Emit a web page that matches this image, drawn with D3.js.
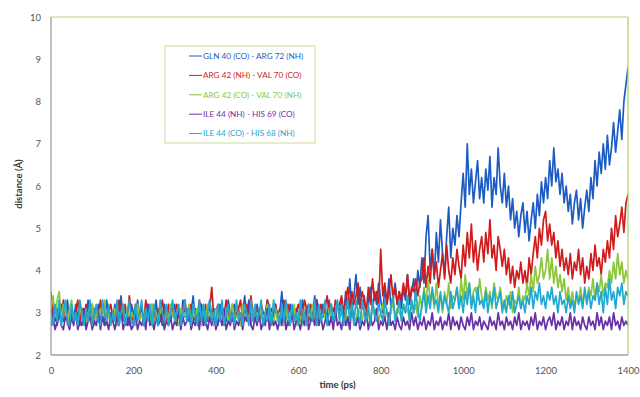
<!DOCTYPE html>
<html>
<head>
<meta charset="utf-8">
<script src="https://cdn.jsdelivr.net/npm/d3@7"></script>
<style>
  body { margin: 0; background: #fff; }
  .tick-label { font-family: Lato, "Open Sans", sans-serif; font-size: 9.5px; fill: #555; }
  .axis-title { font-family: Lato, "Open Sans", sans-serif; font-size: 9.5px; font-weight: bold; fill: #333; }
  .legend-text { font-family: Lato, "Open Sans", sans-serif; font-size: 8.2px; }
</style>
</head>
<body>
<div id="chart"></div>
<script>
const timeStep = 5;

const glnArg = [
  3.5,2.8,3.1,2.7,3.0,3.2,2.8,2.9,3.3,2.7,
  3.0,2.8,3.2,2.9,2.7,3.1,3.0,2.8,3.3,2.9,
  2.7,3.1,2.9,3.2,2.8,3.0,2.7,3.3,2.9,3.0,
  2.8,3.2,2.7,3.0,3.4,2.8,3.1,2.9,2.7,3.2,
  3.0,2.8,3.3,2.9,3.1,2.7,3.0,3.2,2.8,3.1,
  2.9,3.3,2.8,3.0,2.7,3.2,2.9,3.1,2.8,3.0,
  3.2,2.8,3.0,2.7,3.3,2.9,3.1,2.8,3.0,3.4,
  2.8,3.1,2.9,3.2,2.7,3.0,2.8,3.3,2.9,3.1,
  3.0,2.7,3.2,2.9,3.1,2.8,3.3,3.0,2.8,3.2,
  2.9,3.1,2.7,3.0,3.4,2.8,3.2,2.9,3.0,2.8,
  3.2,2.9,3.1,2.7,3.0,3.3,2.8,3.1,2.9,3.2,
  2.8,3.0,3.5,2.9,3.1,2.7,3.2,3.0,2.8,3.1,
  3.0,2.8,3.3,2.9,3.1,3.2,2.8,3.0,3.4,2.9,
  3.1,2.8,3.2,3.0,2.9,3.3,2.8,3.1,3.0,3.2,
  3.0,3.3,2.9,3.5,3.1,3.8,3.0,3.4,3.9,3.2,
  3.6,3.1,3.4,2.9,3.3,3.6,3.0,3.5,3.2,3.7,
  3.3,3.0,3.6,3.2,3.8,3.1,3.4,3.7,3.2,3.5,
  3.1,3.6,3.3,3.9,3.2,3.5,3.8,3.3,4.0,3.6,
  4.3,3.7,4.8,5.3,4.0,4.5,3.8,4.9,4.2,5.2,
  4.4,3.9,4.8,5.5,4.3,5.0,4.6,5.3,4.8,5.6,
  6.3,5.5,7.0,5.8,6.4,5.6,6.1,6.6,5.7,6.2,
  5.6,6.4,5.9,6.7,5.5,6.2,5.8,6.9,6.0,5.6,
  6.3,5.5,6.0,5.2,5.7,5.0,5.4,4.8,5.3,5.6,
  4.9,5.4,4.7,5.2,5.6,5.0,5.8,5.3,6.1,5.6,
  6.2,5.7,6.6,6.0,6.9,6.1,6.4,5.8,6.3,5.6,
  6.0,5.4,5.8,5.1,5.6,5.9,5.2,5.7,5.0,5.5,
  5.9,5.4,6.2,5.7,6.6,6.0,6.8,6.3,7.0,6.4,
  7.2,6.5,6.9,7.5,6.8,7.3,7.8,7.1,8.0,8.4,
  8.8
];

const argValNhCo = [
  2.9,3.2,2.8,3.1,3.0,2.8,3.3,2.9,3.1,2.8,
  3.1,2.9,3.0,3.3,2.8,3.1,2.9,3.2,2.8,3.0,
  3.2,2.8,3.0,2.9,3.3,2.8,3.1,2.9,3.0,3.2,
  2.9,3.1,2.8,3.3,3.0,2.9,3.2,2.8,3.4,3.0,
  2.8,3.2,3.0,2.9,3.1,2.8,3.3,3.0,2.9,3.2,
  3.0,2.8,3.1,2.9,3.3,3.0,2.8,3.2,2.9,3.1,
  2.9,3.2,3.0,2.8,3.1,3.3,2.9,3.0,3.2,2.8,
  3.1,2.9,3.3,3.0,2.8,3.2,2.9,3.1,3.6,2.9,
  3.0,3.2,2.8,3.1,2.9,3.3,3.0,2.8,3.2,3.0,
  2.9,3.1,3.3,2.8,3.0,3.2,2.9,3.4,3.0,2.9,
  3.1,2.8,3.2,3.0,2.9,3.3,3.1,2.8,3.0,3.2,
  2.9,3.1,2.8,3.3,3.0,3.2,2.9,3.1,2.8,3.0,
  3.2,3.0,2.9,3.3,3.1,2.8,3.2,3.0,2.9,3.3,
  3.0,3.2,2.9,3.1,3.4,3.0,3.2,2.9,3.3,3.1,
  3.2,3.4,3.0,3.3,3.6,3.1,3.5,3.2,3.4,3.7,
  3.1,3.5,3.3,3.0,3.6,3.2,3.8,3.3,3.5,3.1,
  4.5,3.4,3.7,3.2,3.5,3.9,3.3,3.6,3.2,3.5,
  3.3,3.7,3.4,3.9,3.3,3.6,3.5,3.8,3.4,3.7,
  3.8,4.3,3.6,4.1,3.7,4.5,3.9,4.2,3.6,4.0,
  4.4,3.8,4.6,4.0,3.7,4.3,3.9,4.5,4.1,3.8,
  4.6,4.1,4.9,4.3,5.1,4.2,4.7,4.0,4.5,4.8,
  4.2,4.9,4.4,5.2,4.3,4.6,4.0,4.8,4.5,4.1,
  4.5,3.9,4.3,3.7,4.1,3.6,4.0,3.8,4.2,3.7,
  4.0,3.6,4.3,3.9,4.4,4.8,4.3,5.0,4.6,5.2,
  5.4,4.7,5.1,4.6,4.9,4.3,4.7,4.1,4.5,4.0,
  4.3,3.9,4.4,3.8,4.2,4.0,4.5,3.9,4.3,3.7,
  4.1,3.8,4.4,4.0,4.6,4.1,4.3,3.9,4.5,4.2,
  4.7,4.3,5.0,4.5,5.3,4.8,5.1,5.5,4.9,5.6,
  5.8
];

const argValCoNh = [
  3.1,3.4,2.9,3.3,3.5,2.8,3.2,3.0,2.7,3.1,
  3.3,2.8,3.0,2.7,3.2,2.9,3.1,2.7,3.0,2.8,
  3.2,2.7,3.0,2.9,3.1,2.8,3.3,2.7,3.0,2.9,
  2.8,3.1,2.7,3.0,2.9,3.2,2.7,3.1,2.8,3.0,
  2.9,2.7,3.2,2.8,3.0,2.7,3.1,2.9,2.8,3.2,
  2.7,3.0,2.8,3.1,2.9,2.7,3.0,2.8,3.2,2.9,
  3.0,2.8,2.7,3.1,2.9,3.0,2.8,3.2,2.7,3.0,
  2.9,3.1,2.8,2.7,3.0,2.9,3.2,2.8,3.0,2.7,
  3.1,2.8,3.0,2.9,2.7,3.1,2.8,3.0,3.2,2.8,
  2.9,3.0,2.7,3.2,2.8,3.0,2.9,2.7,3.1,2.8,
  3.0,2.8,3.1,2.7,2.9,3.2,2.8,3.0,2.7,3.1,
  2.8,3.0,2.9,2.7,3.1,2.8,3.0,2.9,3.2,2.7,
  3.0,2.9,2.7,3.1,2.8,3.0,2.9,3.2,2.8,2.7,
  3.1,2.8,3.0,2.9,2.7,3.1,2.9,3.0,2.8,3.2,
  2.9,3.0,2.8,3.1,2.7,3.0,3.2,2.9,2.8,3.1,
  3.0,2.8,3.1,2.9,3.0,2.7,3.2,2.9,3.1,2.8,
  3.0,3.2,2.9,3.1,2.8,3.0,3.3,2.9,3.1,3.0,
  2.9,3.2,3.0,3.1,2.8,3.3,3.0,3.2,2.9,3.4,
  3.1,3.6,3.2,3.8,3.3,3.5,3.1,3.7,3.2,3.4,
  3.0,3.5,3.2,3.7,3.1,3.4,3.3,3.6,3.1,3.8,
  3.3,3.9,3.4,3.7,3.2,3.5,3.6,3.3,3.8,3.4,
  3.2,3.6,3.3,3.5,3.1,3.7,3.4,3.3,3.6,3.2,
  3.1,3.4,3.2,3.5,3.0,3.3,3.2,3.6,3.1,3.4,
  3.3,3.7,3.4,3.9,3.5,4.1,3.7,3.9,4.3,3.8,
  4.0,4.5,3.8,4.3,3.7,4.1,3.6,3.9,3.5,3.8,
  3.3,3.6,3.2,3.5,3.1,3.4,3.3,3.6,3.2,3.5,
  3.3,3.6,3.4,3.8,3.3,3.7,3.5,3.9,3.4,3.7,
  3.6,4.0,3.7,4.2,3.8,4.4,3.9,4.2,3.7,4.0,
  3.8
];

const ileHis69 = [
  2.7,2.9,2.6,2.8,3.0,2.7,2.6,2.9,2.8,2.6,
  2.9,2.7,3.0,2.6,2.8,2.7,3.1,2.6,2.8,2.9,
  2.6,2.8,2.7,3.0,2.6,2.9,2.7,2.8,2.6,3.0,
  2.8,2.6,2.9,2.7,3.1,2.6,2.8,2.7,2.9,2.6,
  2.7,3.0,2.6,2.8,2.7,2.9,2.6,3.2,2.7,2.8,
  2.6,2.9,2.7,2.8,3.0,2.6,2.8,2.7,2.9,2.6,
  2.8,2.7,3.1,2.6,2.9,2.7,2.8,3.0,2.6,2.8,
  2.7,2.9,2.6,3.2,2.7,2.8,2.6,2.9,2.7,3.0,
  2.6,2.8,2.9,2.7,3.1,2.6,2.8,2.7,3.0,2.6,
  2.8,2.7,3.0,2.6,2.9,2.8,3.3,2.7,2.6,2.9,
  2.7,3.0,2.6,2.8,2.7,3.1,2.6,2.9,2.7,2.8,
  2.6,2.9,2.7,3.2,2.6,2.8,2.7,3.0,2.6,2.8,
  2.8,2.6,2.9,2.7,3.1,2.6,2.8,2.9,2.7,3.3,
  2.7,2.9,2.6,2.8,3.0,2.7,2.9,2.6,3.1,2.7,
  2.8,2.6,3.0,2.7,2.9,2.6,3.2,2.8,2.7,2.9,
  2.6,2.8,2.7,3.0,2.6,2.9,2.7,2.8,3.1,2.6,
  2.8,2.7,2.9,2.6,3.0,2.7,2.8,2.6,2.9,2.7,
  2.6,2.9,2.7,2.8,2.6,3.0,2.7,2.9,2.6,2.8,
  2.7,2.9,2.6,2.8,2.7,3.0,2.6,2.8,2.7,2.9,
  2.6,2.8,2.7,3.0,2.6,2.9,2.7,2.8,2.6,2.9,
  2.7,2.6,2.9,2.7,3.0,2.6,2.8,2.7,2.9,2.6,
  2.8,2.7,2.6,2.9,2.7,2.8,2.6,3.0,2.7,2.8,
  2.6,2.9,2.7,2.8,2.6,2.9,2.7,3.0,2.6,2.8,
  2.7,2.8,2.6,2.9,2.7,3.0,2.6,2.8,2.7,2.9,
  2.6,2.8,2.9,2.7,3.0,2.6,2.8,2.7,2.9,2.6,
  2.8,2.7,3.0,2.6,2.9,2.7,2.8,2.6,2.9,2.7,
  2.6,2.9,2.7,2.8,2.6,3.0,2.7,2.9,2.6,2.8,
  2.7,2.9,2.6,3.0,2.7,2.8,2.6,2.9,2.7,2.8,
  2.7
];

const ileHis68 = [
  3.0,2.7,3.2,2.8,3.3,2.7,3.0,3.3,2.8,2.7,
  3.2,2.8,3.0,2.7,3.3,3.0,2.7,3.1,2.8,3.3,
  2.7,3.0,3.2,2.8,2.7,3.3,3.0,2.8,3.2,2.7,
  3.0,2.8,3.3,2.7,3.0,3.2,2.7,3.0,3.3,2.8,
  2.7,3.2,2.8,3.0,3.3,2.7,3.1,2.8,3.2,2.7,
  3.2,2.8,2.7,3.3,3.0,2.8,3.2,2.7,3.0,3.3,
  2.8,3.0,3.2,2.7,3.0,3.3,2.8,3.1,2.7,3.2,
  3.0,2.7,3.3,2.8,3.2,2.7,3.0,3.3,2.8,3.0,
  2.7,3.2,2.8,3.3,2.7,3.0,3.2,2.8,3.0,2.7,
  3.3,2.8,3.0,2.7,3.2,3.0,2.7,3.3,2.8,3.2,
  2.8,3.0,3.3,2.7,3.0,2.8,3.2,2.7,3.3,3.0,
  3.0,2.7,3.2,2.8,3.3,3.0,2.7,3.2,2.8,3.0,
  2.7,3.3,2.8,3.0,2.7,3.2,3.0,2.8,3.3,2.7,
  3.2,2.8,3.0,3.3,2.7,3.0,3.2,2.8,3.0,3.3,
  2.8,3.2,2.7,3.0,3.3,2.8,3.2,2.7,3.3,3.0,
  2.7,3.3,3.0,2.8,3.2,2.7,3.3,3.0,2.8,3.2,
  3.0,2.8,3.3,3.0,2.7,3.2,3.4,2.8,3.0,3.3,
  2.8,3.2,3.0,3.4,2.8,3.3,3.0,3.5,3.1,2.8,
  3.2,3.5,3.0,3.4,3.1,3.6,3.2,3.3,3.0,3.5,
  3.1,3.4,3.2,3.0,3.5,3.1,3.3,3.6,3.1,3.4,
  3.0,3.5,3.2,3.7,3.1,3.4,3.0,3.6,3.2,3.3,
  3.1,3.5,3.0,3.4,3.2,3.6,3.1,3.3,3.5,3.0,
  3.3,3.0,3.4,3.1,3.5,3.0,3.2,3.4,3.1,3.3,
  3.0,3.4,3.2,3.6,3.1,3.5,3.3,3.7,3.2,3.4,
  3.1,3.5,3.3,3.6,3.2,3.4,3.0,3.5,3.2,3.3,
  3.0,3.4,3.1,3.3,3.0,3.5,3.2,3.4,3.1,3.6,
  3.2,3.5,3.1,3.4,3.3,3.7,3.2,3.5,3.0,3.6,
  3.2,3.8,3.3,3.5,3.1,3.6,3.4,3.7,3.2,3.5,
  3.4
];

const seriesNames = [
  'GLN 40 (CO) - ARG 72 (NH)',
  'ARG 42 (NH) - VAL 70 (CO)',
  'ARG 42 (CO) - VAL 70 (NH)',
  'ILE 44 (NH) - HIS 69 (CO)',
  'ILE 44  (CO) - HIS 68 (NH)'
];
const seriesValues = [glnArg, argValNhCo, argValCoNh, ileHis69, ileHis68];
const seriesColors = ['#1c5cc4', '#d01c1c', '#8cc63a', '#6a30a8', '#20a8d0'];

const xTicks = [0, 200, 400, 600, 800, 1000, 1200, 1400];
const yTicks = [2, 3, 4, 5, 6, 7, 8, 9, 10];

const width = 640, height = 397;
const margin = {top: 17, right: 12, bottom: 42, left: 51};
const innerW = width - margin.left - margin.right;
const innerH = height - margin.top - margin.bottom;

const svg = d3.select('#chart').append('svg')
  .attr('width', width)
  .attr('height', height);

const x = d3.scaleLinear().domain([0, 1400]).range([0, innerW]);
const y = d3.scaleLinear().domain([2, 10]).range([innerH, 0]);

const chart = svg.append('g')
  .attr('transform', 'translate(' + margin.left + ',' + margin.top + ')');

// clip so the noisy traces stay inside the frame
svg.append('defs').append('clipPath').attr('id', 'plot-clip')
  .append('rect').attr('width', innerW).attr('height', innerH);

const line = d3.line()
  .x((d, i) => x(i * timeStep))
  .y(d => y(d));

// thick strokes so the dense MD noise reads as a filled band
const traces = chart.append('g').attr('clip-path', 'url(#plot-clip)');
seriesValues.forEach((vals, i) => {
  traces.append('path')
    .datum(vals)
    .attr('fill', 'none')
    .attr('stroke', seriesColors[i])
    .attr('stroke-width', 1.7)
    .attr('stroke-linejoin', 'round')
    .attr('d', line);
});

// frame: grey left/bottom, yellow-green top/right
chart.append('line').attr('x1', 0).attr('x2', 0).attr('y1', 0).attr('y2', innerH)
  .attr('stroke', '#a0a0a0').attr('stroke-width', 1.3);
chart.append('line').attr('x1', 0).attr('x2', innerW).attr('y1', innerH).attr('y2', innerH)
  .attr('stroke', '#a0a0a0').attr('stroke-width', 1.3);
chart.append('line').attr('x1', 0).attr('x2', innerW).attr('y1', 0).attr('y2', 0)
  .attr('stroke', '#c4d67a').attr('stroke-width', 1.2);
chart.append('line').attr('x1', innerW).attr('x2', innerW).attr('y1', 0).attr('y2', innerH)
  .attr('stroke', '#a8d060').attr('stroke-width', 1.2);

// axes, drawn with d3 and then stripped to labels only
const axisY = chart.append('g')
  .call(d3.axisLeft(y).tickValues(yTicks).tickSize(0).tickPadding(10));
axisY.select('.domain').remove();
axisY.selectAll('.tick text').attr('class', 'tick-label');

const axisX = chart.append('g')
  .attr('transform', 'translate(0,' + innerH + ')')
  .call(d3.axisBottom(x).tickValues(xTicks).tickFormat(d3.format('d')).tickSize(0).tickPadding(12));
axisX.select('.domain').remove();
axisX.selectAll('.tick text').attr('class', 'tick-label');

svg.append('text')
  .attr('class', 'axis-title')
  .attr('text-anchor', 'middle')
  .attr('transform', 'translate(22,' + (margin.top + innerH / 2 - 2) + ') rotate(-90)')
  .text('distance (Å)');

svg.append('text')
  .attr('class', 'axis-title')
  .attr('text-anchor', 'middle')
  .attr('x', margin.left + innerW / 2 - 2)
  .attr('y', 388)
  .text('time (ps)');

// legend
const legend = svg.append('g').attr('transform', 'translate(165,46)');
legend.append('rect')
  .attr('width', 150).attr('height', 97)
  .attr('fill', '#fff')
  .attr('stroke', '#ccdc96').attr('stroke-width', 1);

seriesNames.forEach((name, i) => {
  const row = legend.append('g').attr('transform', 'translate(0,' + (10 + i * 19.4) + ')');
  row.append('line')
    .attr('x1', 24).attr('x2', 37)
    .attr('stroke', seriesColors[i]).attr('stroke-width', 1);
  row.append('text')
    .attr('class', 'legend-text')
    .attr('x', 38).attr('dy', '0.35em')
    .attr('fill', seriesColors[i])
    .text(name);
});
</script>
</body>
</html>
